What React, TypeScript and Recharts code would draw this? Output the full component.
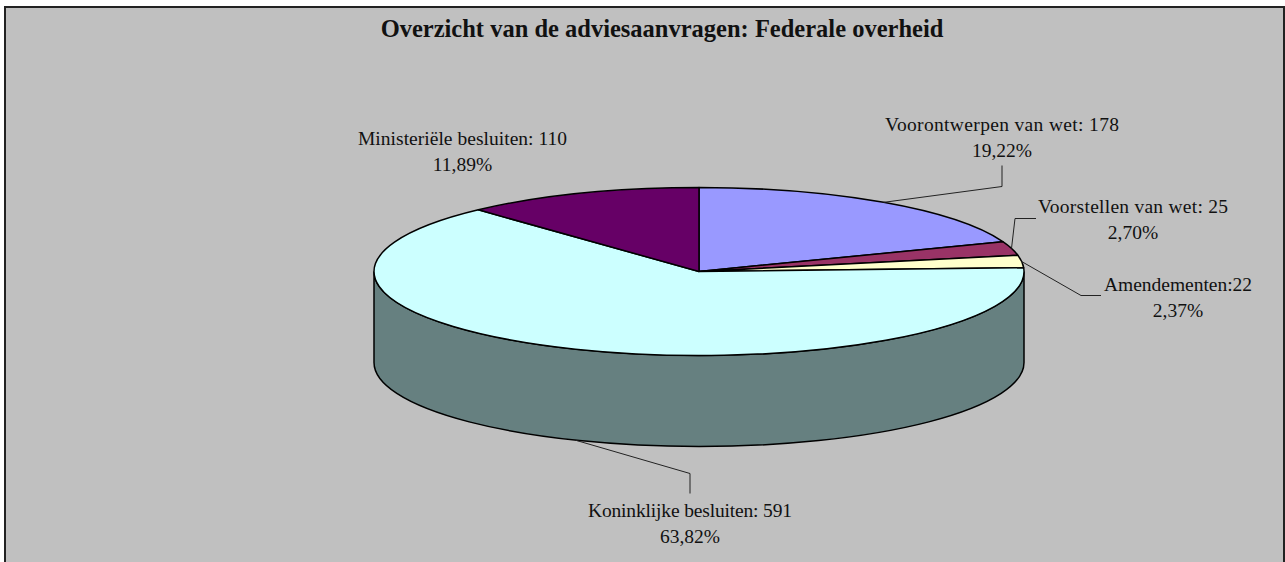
import { Pie, PieChart } from "recharts"

const names = ["Voorontwerpen van wet", "Voorstellen van wet", "Amendementen", "Koninklijke besluiten", "Ministeriële besluiten"]
const values = [178, 25, 22, 591, 110]
const captions = ["Voorontwerpen van wet: 178", "Voorstellen van wet: 25", "Amendementen:22", "Koninklijke besluiten: 591", "Ministeriële besluiten: 110"]
const percents = ["19,22%", "2,70%", "2,37%", "63,82%", "11,89%"]
const colors = ["#9999FF", "#993366", "#FFFFCC", "#CCFFFF", "#660066"]
const wallColor = "#668080"
const title = "Overzicht van de adviesaanvragen: Federale overheid"

const data = names.map((name, i) => ({ name, value: values[i] }))

const FONT = "'Liberation Serif', 'Times New Roman', serif"
const LABEL_SIZE = 19.5
const CX = 699
const CY = 271.5
const RX = 325
const RY = 84
const DEPTH = 91

// label centre, caption width and leader elbows, relative to the pie centre
const labelLayout = [
  { x: 303, y: -141, width: 234, elbows: [[303, -85], [303, -106]] },
  { x: 434, y: -59, width: 190, elbows: [[316, -53], [337, -53]] },
  { x: 479, y: 19, width: 148, elbows: [[382, 24], [402, 24]] },
  { x: -9, y: 245, width: 204, elbows: [[-9, 202], [-9, 222]] },
  { x: -236.5, y: -126.5, width: 209, elbows: [] as number[][] },
]

// t = degrees clockwise from the top of the ellipse
const rim = (t: number, dy = 0) => {
  const r = (t * Math.PI) / 180
  return [CX + RX * Math.sin(r), CY - RY * Math.cos(r) + dy]
}

function Slice3D(props: any) {
  const { startAngle, endAngle, fill } = props
  const t0 = 90 - startAngle
  const t1 = 90 - endAngle
  const [x0, y0] = rim(t0)
  const [x1, y1] = rim(t1)
  const large = t1 - t0 > 180 ? 1 : 0
  const w0 = Math.max(t0, 90)
  const w1 = Math.min(t1, 270)
  let wall = null
  if (w1 > w0) {
    const [ax, ay] = rim(w0)
    const [bx, by] = rim(w1)
    wall = (
      <path
        d={`M${ax},${ay} A${RX},${RY} 0 0 1 ${bx},${by} L${bx},${by + DEPTH} A${RX},${RY} 0 0 0 ${ax},${ay + DEPTH} Z`}
        fill={wallColor}
        stroke="#000"
        strokeWidth={1.5}
      />
    )
  }
  return (
    <g>
      {wall}
      <path
        d={`M${CX},${CY} L${x0},${y0} A${RX},${RY} 0 ${large} 1 ${x1},${y1} Z`}
        fill={fill}
        stroke="#000"
        strokeWidth={1.5}
        strokeLinejoin="round"
      />
    </g>
  )
}

function SliceLabel(props: any) {
  const { midAngle, index } = props
  const spot = labelLayout[index]
  const t = 90 - midAngle
  const mid = ((t % 360) + 360) % 360
  const start = rim(mid, mid > 90 && mid < 270 ? DEPTH : 0)
  const pts = [start, ...spot.elbows.map(([x, y]) => [CX + x, CY + y])]
  const textProps = { textAnchor: "middle" as const, fontFamily: FONT, fontSize: LABEL_SIZE, fill: "#111" }
  return (
    <g>
      {spot.elbows.length > 0 && (
        <polyline points={pts.map((p) => p.join(",")).join(" ")} fill="none" stroke="#222" strokeWidth={1} />
      )}
      <text x={CX + spot.x} y={CY + spot.y} textLength={spot.width} lengthAdjust="spacing" {...textProps}>
        {captions[index]}
      </text>
      <text x={CX + spot.x} y={CY + spot.y + 26} {...textProps}>
        {percents[index]}
      </text>
    </g>
  )
}

export default function App() {
  return (
    <div style={{ position: "absolute", left: 0, top: 0, width: 1285, height: 562, overflow: "hidden", background: "#fff" }}>
      <div style={{ position: "absolute", left: 4, top: 6, width: 1277, height: 600, background: "#C0C0C0", border: "2px solid #222" }} />
      <div style={{ position: "absolute", left: 0, top: 0 }}>
        <PieChart width={1285} height={562}>
          <text x={662} y={37} textAnchor="middle" fontFamily={FONT} fontSize={24.5} fontWeight="bold" fill="#111">
            {title}
          </text>
          <Pie
            data={data}
            dataKey="value"
            nameKey="name"
            cx={CX}
            cy={CY}
            innerRadius={0}
            outerRadius={RX}
            startAngle={90}
            endAngle={-270}
            fill="#8884d8"
            stroke="#000"
            shape={(p: any) => <Slice3D {...p} fill={colors[p.index]} />}
            label={(p: any) => <SliceLabel {...p} />}
            labelLine={false}
            isAnimationActive={false}
          />
        </PieChart>
      </div>
    </div>
  )
}
